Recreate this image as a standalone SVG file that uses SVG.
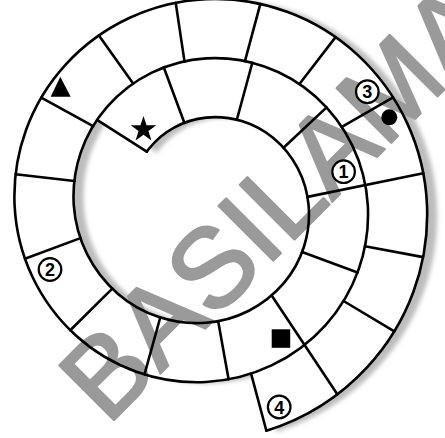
<svg xmlns="http://www.w3.org/2000/svg" xmlns:xlink="http://www.w3.org/1999/xlink" width="445" height="438" viewBox="0 0 445 438">
<style>
.ln{fill:none;stroke:#000;stroke-width:2.6;stroke-linecap:round;stroke-linejoin:round}
.wm{font-family:"Liberation Sans",Arial,sans-serif;font-size:112px;fill:#9a9a9a;stroke:#9a9a9a;stroke-width:2.5;stroke-linejoin:round}
.num circle{fill:#fff;stroke:#000;stroke-width:2.2}
.num text{font-family:"Liberation Sans",Arial,sans-serif;font-weight:bold;font-size:18px;text-anchor:middle;fill:#000}
</style>
<defs>
<filter id="sh" x="-10%" y="-10%" width="120%" height="120%"><feGaussianBlur stdDeviation="2"/></filter>
<path id="track" fill-rule="evenodd" d="M266.39 430.78 A230.9 230.9 0 0 0 367.5 366.9 A224.7 224.7 0 0 0 427 205.4 A217.3 217.3 0 0 0 357.04 54.36 A209.9 209.9 0 0 0 206 -0.8 A202.5 202.5 0 0 0 65.43 64.83 A195.1 195.1 0 0 0 14.6 205.4 A187.7 187.7 0 0 0 75.89 335.51 A180.3 180.3 0 0 0 206 382 A175.4 175.4 0 0 0 251.07 373.6 Z M97.04 119.97 A135.3 135.3 0 0 0 73.8 205.4 A128.5 128.5 0 0 0 117.75 293.65 A121.1 121.1 0 0 0 206 322.8 A113.7 113.7 0 0 0 283.78 283.18 A106.3 106.3 0 0 0 308.6 205.4 A98.9 98.9 0 0 0 273.32 138.08 A91.5 91.5 0 0 0 206 117.6 A84.1 84.1 0 0 0 149.15 148.55 A80.2 80.2 0 0 0 146.78 151.71 Z"/>
</defs>
<rect width="445" height="438" fill="#fff"/>
<g id="shadow"><use xlink:href="#track" transform="translate(10,1)" fill="#bdbdbd" filter="url(#sh)"/></g>
<g id="board-fill"><use xlink:href="#track" fill="#fff"/></g>
<g id="watermark"><text class="wm" transform="translate(107.5,426.3) rotate(-45)">BASILAMA</text></g>
<g id="spiral">
<path class="ln" d="M266.39 430.78 A230.9 230.9 0 0 0 367.5 366.9 A224.7 224.7 0 0 0 427 205.4 A217.3 217.3 0 0 0 357.04 54.36 A209.9 209.9 0 0 0 206 -0.8 A202.5 202.5 0 0 0 65.43 64.83 A195.1 195.1 0 0 0 14.6 205.4 A187.7 187.7 0 0 0 75.89 335.51 A180.3 180.3 0 0 0 206 382 A172.9 172.9 0 0 0 325.64 325.04 A165.5 165.5 0 0 0 367.8 205.4 A158.1 158.1 0 0 0 315.18 96.22 A150.7 150.7 0 0 0 206 58.4 A143.3 143.3 0 0 0 107.29 106.69 A135.9 135.9 0 0 0 73.8 205.4 A128.5 128.5 0 0 0 117.75 293.65 A121.1 121.1 0 0 0 206 322.8 A113.7 113.7 0 0 0 283.78 283.18 A106.3 106.3 0 0 0 308.6 205.4 A98.9 98.9 0 0 0 273.32 138.08 A91.5 91.5 0 0 0 206 117.6 A84.1 84.1 0 0 0 149.15 148.55 A80.2 80.2 0 0 0 146.78 151.71"/>
</g>
<g id="dividers" class="ln">
<line x1="266.39" y1="430.78" x2="251.07" y2="373.6"/>
<line x1="337.31" y1="394.32" x2="271.67" y2="295.46"/>
<line x1="394.27" y1="331.44" x2="343.55" y2="301"/>
<line x1="423.13" y1="257.12" x2="365.01" y2="246.23"/>
<line x1="423.27" y1="173.31" x2="307.45" y2="196.88"/>
<line x1="393.1" y1="97.4" x2="341.85" y2="126.97"/>
<line x1="335.57" y1="37.13" x2="299.46" y2="84.04"/>
<line x1="260.36" y1="3.92" x2="244.94" y2="61.08"/>
<line x1="175.73" y1="2.85" x2="184.48" y2="61.4"/>
<line x1="98.93" y1="35.39" x2="133.12" y2="83.62"/>
<line x1="41.27" y1="97.6" x2="93.13" y2="126.07"/>
<line x1="15.6" y1="174.22" x2="74.31" y2="181"/>
<line x1="24.98" y1="258.67" x2="80.39" y2="238.12"/>
<line x1="70.26" y1="330.22" x2="112.26" y2="288.63"/>
<line x1="144.48" y1="374.44" x2="160.27" y2="317.48"/>
<line x1="228.59" y1="379.32" x2="218.17" y2="321.17"/>
<line x1="357.53" y1="272.54" x2="302.13" y2="252.08"/>
<line x1="326.57" y1="107.41" x2="283.53" y2="147.82"/>
<line x1="252.34" y1="62.78" x2="236.84" y2="119.73"/>
<line x1="163.83" y1="67.49" x2="184.33" y2="122.81"/>
<line x1="97.04" y1="119.97" x2="146.78" y2="151.71"/>
</g>
<g id="triangle"><polygon points="60.3,76.7 50.7,96.7 70.7,96.7" fill="#000"/></g>
<g id="star"><polygon points="143.5,116 146.53,125.33 156.34,125.33 148.41,131.09 151.44,140.42 143.5,134.66 135.56,140.42 138.59,131.09 130.66,125.33 140.47,125.33" fill="#000"/></g>
<g id="dot"><circle cx="389.3" cy="117.3" r="8" fill="#000"/></g>
<g id="square"><rect x="271.7" y="329.3" width="18.5" height="18.5" fill="#000"/></g>
<g id="n1" class="num"><circle cx="343.6" cy="171.7" r="11.3"/><text x="343.6" y="178.2">1</text></g>
<g id="n2" class="num"><circle cx="50" cy="269.5" r="11.3"/><text x="50" y="276">2</text></g>
<g id="n3" class="num"><circle cx="367.3" cy="91.7" r="11.3"/><text x="367.3" y="98.2">3</text></g>
<g id="n4" class="num"><circle cx="279.2" cy="407" r="11.3"/><text x="279.2" y="413.5">4</text></g>
</svg>
